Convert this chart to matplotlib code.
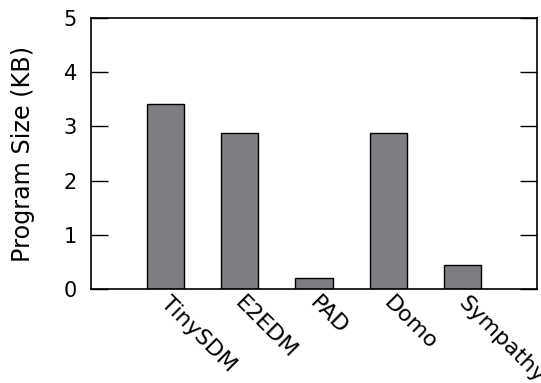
import matplotlib
matplotlib.use("Agg")
import matplotlib.pyplot as plt
import matplotlib.transforms as mtransforms

categories = ["TinySDM", "E2EDM", "PAD", "Domo", "Sympathy"]
sizes_kb = [3.41, 2.87, 0.21, 2.88, 0.45]
y_ticks = [0, 1, 2, 3, 4, 5]

plt.rcParams["font.family"] = ["DejaVu Sans"]

fig = plt.figure(figsize=(5.41, 3.83), dpi=100)
ax = fig.add_axes([91 / 541, 1 - 289 / 383, (537 - 91) / 541, (289 - 18) / 383])

positions = list(range(1, len(categories) + 1))
ax.bar(positions, sizes_kb, width=0.5, color="#7e7e82", edgecolor="black",
       linewidth=1.0, zorder=2)

ax.set_xlim(0, len(categories) + 1)
ax.set_ylim(0, 5)
ax.set_yticks(y_ticks)
ax.set_yticklabels([str(t) for t in y_ticks], fontsize=15)
ax.set_xticks(positions)
ax.set_xticklabels(categories, rotation=-45, ha="left", va="top",
                   rotation_mode="anchor", fontsize=16)
ax.tick_params(axis="x", length=0, pad=3)
ax.tick_params(axis="y", direction="in", length=12, width=1.0,
               right=True, pad=10)
for s in ax.spines.values():
    s.set_linewidth(1.2)

# nudge rotated category labels slightly to the right
shift = mtransforms.ScaledTranslation(6 / 100, 0, fig.dpi_scale_trans)
for lbl in ax.get_xticklabels():
    lbl.set_transform(lbl.get_transform() + shift)

ax.set_ylabel("Program Size (KB)", fontsize=17.2)
ax.yaxis.set_label_coords(-0.126, 0.5)

fig.savefig("out.png", dpi=100)
